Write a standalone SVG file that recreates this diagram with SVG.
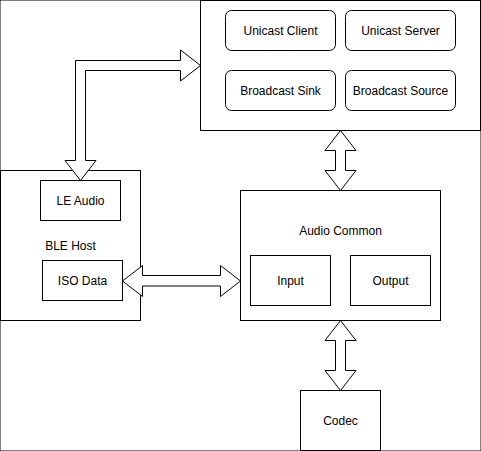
<svg xmlns="http://www.w3.org/2000/svg" width="481" height="451" viewBox="0 0 481 451">
<style>
rect{fill:#fff;stroke:#000;stroke-width:1}
.arr{fill:#fff;stroke:#000;stroke-width:1;stroke-linejoin:miter}
text{font-family:"Liberation Sans",Arial,sans-serif;font-size:12px;fill:#000;text-anchor:middle}
</style>
<rect width="481" height="451" fill="#fff" stroke="none"/>
<g id="profiles">
<rect x="200.5" y="0.5" width="280" height="130"/>
</g>
<g id="unicast-client"><rect x="225.5" y="10.5" width="110" height="40" rx="6"/><text x="280.5" y="35">Unicast Client</text></g>
<g id="unicast-server"><rect x="345.5" y="10.5" width="110" height="40" rx="6"/><text x="400.5" y="35">Unicast Server</text></g>
<g id="broadcast-sink"><rect x="225.5" y="70.5" width="110" height="40" rx="6"/><text x="280.5" y="95">Broadcast Sink</text></g>
<g id="broadcast-source"><rect x="345.5" y="70.5" width="110" height="40" rx="6"/><text x="400.5" y="95">Broadcast Source</text></g>
<g id="ble-host"><rect x="0.5" y="170.5" width="140" height="150"/><text x="70.5" y="250">BLE Host</text></g>
<g id="le-audio"><rect x="40.5" y="180.5" width="80" height="40"/><text x="80.5" y="205">LE Audio</text></g>
<g id="iso-data"><rect x="42.5" y="260.5" width="80" height="40"/><text x="82.5" y="285">ISO Data</text></g>
<g id="audio-common"><rect x="240.5" y="190.5" width="200" height="130"/><text x="340.5" y="235">Audio Common</text></g>
<g id="input"><rect x="250.5" y="255.5" width="80" height="50"/><text x="290.5" y="285">Input</text></g>
<g id="output"><rect x="350.5" y="255.5" width="80" height="50"/><text x="390.5" y="285">Output</text></g>
<g id="codec"><rect x="300.5" y="390.5" width="80" height="60"/><text x="340.5" y="425">Codec</text></g>
<g id="connectors">
<polygon class="arr" points="80.5,180.5 65,160.5 75.5,160.5 75.5,60.5 180.5,60.5 180.5,50 200.5,65.5 180.5,81 180.5,70.5 85.5,70.5 85.5,160.5 96,160.5"/>
<polygon class="arr" points="340.5,130.5 356,150.5 345.5,150.5 345.5,170.5 356,170.5 340.5,190.5 325,170.5 335.5,170.5 335.5,150.5 325,150.5"/>
<polygon class="arr" points="340.5,320.5 356,340.5 345.5,340.5 345.5,370.5 356,370.5 340.5,390.5 325,370.5 335.5,370.5 335.5,340.5 325,340.5"/>
<polygon class="arr" points="122.5,281 142.5,265.5 142.5,275.5 220.5,275.5 220.5,265.5 240.5,281 220.5,296.5 220.5,286 142.5,286 142.5,296.5"/>
</g>
</svg>
